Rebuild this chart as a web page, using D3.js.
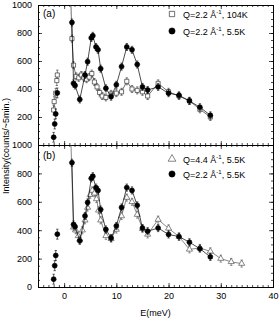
<!DOCTYPE html>
<html>
<head>
<meta charset="utf-8">
<script src="https://cdn.jsdelivr.net/npm/d3@7"></script>
<style>
  body { margin: 0; background: #fff; }
  svg text { font-family: "Liberation Sans", Arial, sans-serif; fill: #000; }
</style>
</head>
<body>
<div id="chart"></div>
<script>
// Q=2.2 1/A, 5.5K (filled circles, both panels)
const cold22E = [1.5, 1.8, 2.1, 3.0, 4.0, 4.5, 5.2, 5.5, 6.1, 6.5, 7.0, 8.0, 9.0, 10.0, 11.0, 12.0, 13.0, 14.0, 15.0, 16.0, 18.0, 20.0, 22.0, 24.0, 26.0, 28.0];
const cold22I = [875, 440, 425, 325, 500, 595, 765, 780, 700, 680, 545, 405, 345, 430, 560, 700, 680, 575, 415, 393, 415, 370, 355, 315, 270, 212];
const cold22NegE = [-2.0, -1.8, -1.6, -1.3];
const cold22NegI = [55, 150, 222, 372];

// Q=2.2 1/A, 104K (open squares, panel a)
const hot22E = [1.2, 1.5, 1.8, 2.3, 2.8, 3.3, 3.8, 4.3, 4.8, 5.3, 5.8, 6.3, 6.8, 7.3, 8.0, 9.0, 10.0, 11.0, 12.0, 13.0, 14.0, 15.0, 16.0, 18.0, 20.0, 22.0, 24.0, 26.0, 28.0];
const hot22I = [1150, 760, 570, 490, 480, 500, 480, 470, 485, 510, 450, 415, 375, 350, 340, 365, 370, 380, 455, 400, 390, 380, 350, 440, 380, 350, 315, 255, 200];
const hot22NegE = [-2.0, -1.9, -1.6, -1.4, -1.3];
const hot22NegI = [250, 310, 370, 460, 500];

// Q=4.4 1/A, 5.5K (open triangles, panel b)
const cold44E = [1.2, 1.8, 2.2, 2.7, 3.0, 3.5, 4.0, 4.5, 5.0, 5.4, 5.8, 6.2, 6.6, 7.0, 8.0, 9.0, 10.0, 11.0, 12.0, 13.0, 14.0, 15.0, 16.0, 18.0, 20.0, 22.0, 24.0, 26.0, 28.0, 30.0, 32.0, 34.0];
const cold44I = [1150, 420, 400, 360, 335, 400, 470, 560, 650, 680, 660, 620, 540, 470, 360, 340, 405, 500, 630, 600, 510, 410, 370, 475, 413, 355, 265, 275, 251, 200, 177, 165];

const errBar = 25;
const errBarNeg = 35;

const xTicks = [0, 10, 20, 30, 40];
const yTicksA = [200, 400, 600, 800, 1000];
const yTicksB = [0, 200, 400, 600, 800, 1000];

const width = 279, height = 319;
const plotLeft = 38, plotRight = 273;

const svg = d3.select("#chart").append("svg")
    .attr("width", width)
    .attr("height", height);

const x = d3.scaleLinear().domain([-5, 40]).range([plotLeft, plotRight]);

function zip(es, is) {
    return es.map((e, i) => ({e: e, v: is[i]}));
}

function drawPanel(id, top, bottom, yTicks, showX) {
    const y = d3.scaleLinear().domain([0, 1000]).range([bottom, top]);
    const g = svg.append("g");

    g.append("clipPath").attr("id", "clip" + id)
        .append("rect")
        .attr("x", plotLeft).attr("y", top)
        .attr("width", plotRight - plotLeft).attr("height", bottom - top);

    // minor ticks
    const minorX = d3.range(-5, 41, 1);
    const minorY = d3.range(0, 1001, 50);
    g.append("g").attr("transform", `translate(0,${bottom})`)
        .call(d3.axisBottom(x).tickValues(minorX).tickSize(-2).tickFormat(""));
    g.append("g").attr("transform", `translate(0,${top})`)
        .call(d3.axisTop(x).tickValues(minorX).tickSize(-2).tickFormat(""));
    g.append("g").attr("transform", `translate(${plotLeft},0)`)
        .call(d3.axisLeft(y).tickValues(minorY).tickSize(-2).tickFormat(""));
    g.append("g").attr("transform", `translate(${plotRight},0)`)
        .call(d3.axisRight(y).tickValues(minorY).tickSize(-2).tickFormat(""));

    // major ticks
    g.append("g").attr("class", "xaxis").attr("transform", `translate(0,${bottom})`)
        .call(d3.axisBottom(x).tickValues([-5].concat(xTicks)).tickSize(-4)
            .tickFormat(d => showX && d >= 0 ? d : ""));
    g.append("g").attr("transform", `translate(0,${top})`)
        .call(d3.axisTop(x).tickValues(xTicks).tickSize(-4).tickFormat(""));
    g.append("g").attr("class", "yaxis").attr("transform", `translate(${plotLeft},0)`)
        .call(d3.axisLeft(y).tickValues(yTicks).tickSize(-4).tickPadding(6)
            .tickFormat(d3.format("d")));
    g.append("g").attr("transform", `translate(${plotRight},0)`)
        .call(d3.axisRight(y).tickValues(yTicks).tickSize(-4).tickFormat(""));

    g.selectAll(".domain").attr("stroke", "#000").attr("stroke-width", 0.9);
    g.selectAll(".tick line").attr("stroke", "#000").attr("stroke-width", 0.7);
    g.selectAll(".tick text").attr("font-size", 9)
        .attr("font-family", "Liberation Sans, Arial, sans-serif");
    g.selectAll(".xaxis .tick text").attr("dy", "0.95em");

    const plot = g.append("g").attr("clip-path", `url(#clip${id})`);
    return {g: g, plot: plot, y: y};
}

function drawSeries(panel, pts, shape, lineColor, joined, err) {
    const y = panel.y;
    const layer = panel.plot.append("g");
    if (joined) {
        layer.append("path")
            .datum(pts)
            .attr("fill", "none")
            .attr("stroke", lineColor)
            .attr("stroke-width", 0.7)
            .attr("d", d3.line().x(d => x(d.e)).y(d => y(d.v)));
    }
    // error bars
    const eb = layer.selectAll(".eb").data(pts).enter().append("g");
    eb.append("line")
        .attr("x1", d => x(d.e)).attr("x2", d => x(d.e))
        .attr("y1", d => y(d.v - err)).attr("y2", d => y(d.v + err))
        .attr("stroke", lineColor).attr("stroke-width", 0.6);
    eb.append("line")
        .attr("x1", d => x(d.e) - 1.2).attr("x2", d => x(d.e) + 1.2)
        .attr("y1", d => y(d.v + err)).attr("y2", d => y(d.v + err))
        .attr("stroke", lineColor).attr("stroke-width", 0.6);
    eb.append("line")
        .attr("x1", d => x(d.e) - 1.2).attr("x2", d => x(d.e) + 1.2)
        .attr("y1", d => y(d.v - err)).attr("y2", d => y(d.v - err))
        .attr("stroke", lineColor).attr("stroke-width", 0.6);

    let sym;
    if (shape === "circle") sym = d3.symbol().type(d3.symbolCircle).size(19);
    else if (shape === "square") sym = d3.symbol().type(d3.symbolSquare).size(17);
    else sym = d3.symbol().type(d3.symbolTriangle).size(16);

    layer.selectAll(".pt").data(pts).enter().append("path")
        .attr("transform", d => `translate(${x(d.e)},${y(d.v)})`)
        .attr("d", sym)
        .attr("fill", shape === "circle" ? "#000" : "#fff")
        .attr("stroke", shape === "circle" ? "#000" : lineColor)
        .attr("stroke-width", 0.7);
}

function legendRow(g, yPos, shape, color, qText, tText) {
    let sym;
    if (shape === "circle") sym = d3.symbol().type(d3.symbolCircle).size(30);
    else if (shape === "square") sym = d3.symbol().type(d3.symbolSquare).size(28);
    else sym = d3.symbol().type(d3.symbolTriangle).size(26);
    g.append("path")
        .attr("transform", `translate(172,${yPos})`)
        .attr("d", sym)
        .attr("fill", shape === "circle" ? "#000" : "#fff")
        .attr("stroke", shape === "circle" ? "#000" : color)
        .attr("stroke-width", 0.7);
    const t = g.append("text")
        .attr("x", 183).attr("y", yPos + 3.5)
        .attr("font-size", 9);
    t.append("tspan").text(qText + " \u00c5");
    t.append("tspan").attr("font-size", 6).attr("dy", -4).text("-1");
    t.append("tspan").attr("dy", 4).text(", " + tText);
}

// panel (a)
const panelA = drawPanel("a", 5, 145, yTicksA, false);
drawSeries(panelA, zip(hot22E, hot22I), "square", "#333", true, errBar);
drawSeries(panelA, zip(hot22NegE, hot22NegI), "square", "#333", false, errBarNeg);
drawSeries(panelA, zip(cold22E, cold22I), "circle", "#000", true, errBar);
drawSeries(panelA, zip(cold22NegE, cold22NegI), "circle", "#000", false, errBarNeg);
panelA.g.append("text").attr("x", 43).attr("y", 17).attr("font-size", 10).text("(a)");
legendRow(panelA.g, 14, "square", "#333", "Q=2.2", "104K");
legendRow(panelA.g, 31, "circle", "#000", "Q=2.2", "5.5K");

// panel (b)
const panelB = drawPanel("b", 145, 287, yTicksB, true);
drawSeries(panelB, zip(cold44E, cold44I), "triangle", "#555", true, errBar);
drawSeries(panelB, zip(cold22E, cold22I), "circle", "#000", true, errBar);
drawSeries(panelB, zip(cold22NegE, cold22NegI), "circle", "#000", false, errBarNeg);
panelB.g.append("text").attr("x", 43).attr("y", 159).attr("font-size", 10).text("(b)");
legendRow(panelB.g, 159, "triangle", "#555", "Q=4.4", "5.5K");
legendRow(panelB.g, 174, "circle", "#000", "Q=2.2", "5.5K");

// axis titles
svg.append("text")
    .attr("transform", "translate(9,146) rotate(-90)")
    .attr("text-anchor", "middle")
    .attr("font-size", 9)
    .text("Intensity(counts/~5min.)");
svg.append("text")
    .attr("x", (plotLeft + plotRight) / 2).attr("y", 316)
    .attr("text-anchor", "middle")
    .attr("font-size", 9)
    .text("E(meV)");
</script>
</body>
</html>
